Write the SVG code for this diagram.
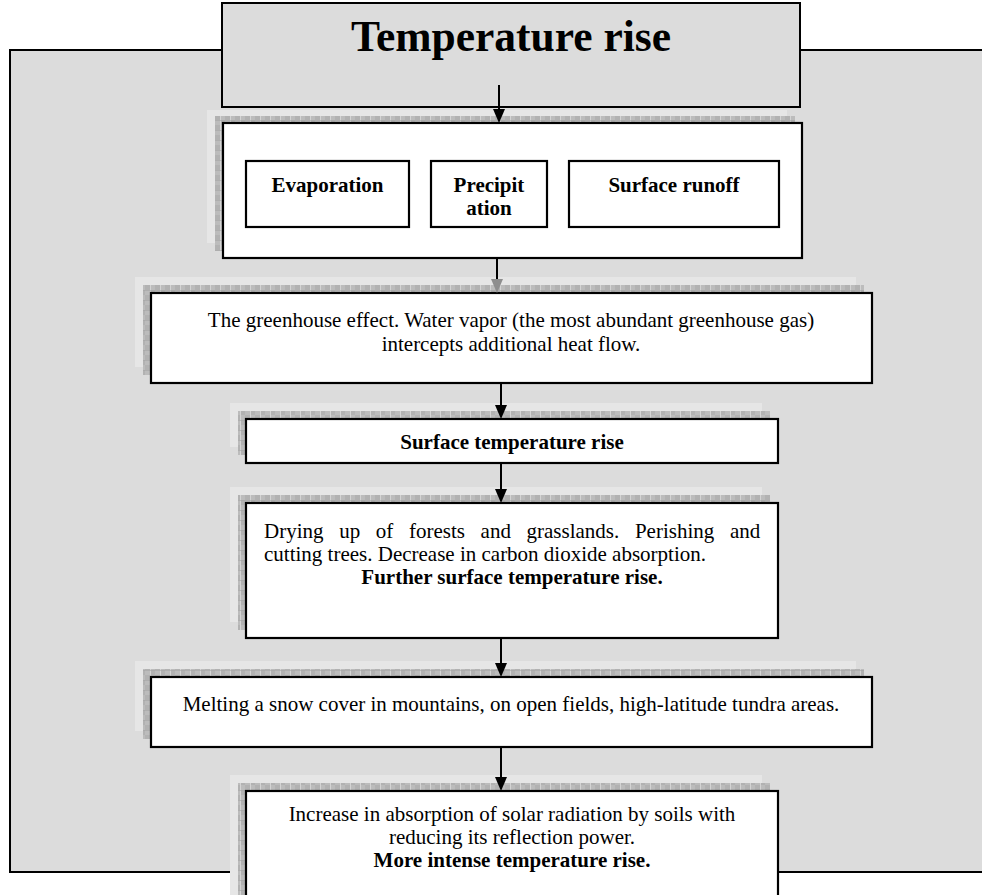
<svg xmlns="http://www.w3.org/2000/svg" width="982" height="895" viewBox="0 0 982 895">
<defs>
<style>
.frame{fill:#dcdcdc;stroke:#000;stroke-width:2}
.box{fill:#fff;stroke:#000;stroke-width:2.2}
.glow{fill:#e6e6e6}
.shadow{fill:url(#hatch)}
.t{font-family:"Liberation Serif","Times New Roman",serif;font-size:21px;fill:#000}
.c{text-anchor:middle}
.b{font-weight:bold}
.conn{stroke:#000;stroke-width:2;fill:none}
</style>
<pattern id="hatch" width="10" height="10" patternUnits="userSpaceOnUse">
<rect width="10" height="10" fill="#bcbcbc"/>
<rect x="0" y="0" width="5" height="5" fill="#b2b2b2"/>
<rect x="5" y="5" width="5" height="5" fill="#b2b2b2"/>
<path d="M0.5 0V10" stroke="#d4d4d4" stroke-width="1"/>
<path d="M0 0.5H10" stroke="#a4a4a4" stroke-width="0.6"/>
</pattern>
<marker id="arr" markerUnits="userSpaceOnUse" markerWidth="14" markerHeight="12" viewBox="0 0 14 12" refX="6" refY="6" orient="auto">
<path d="M0,0 L14,6 L0,12 z" fill="#000"/>
</marker>
<marker id="arrg" markerUnits="userSpaceOnUse" markerWidth="14" markerHeight="12" viewBox="0 0 14 12" refX="6" refY="6" orient="auto">
<path d="M0,0 L14,6 L0,12 z" fill="#8e8e8e"/>
</marker>
</defs>

<g id="frame">
<rect class="frame" x="10" y="50" width="990" height="822"/>
</g>

<g id="water-cycle">
<rect class="glow" x="207" y="110" width="580" height="133"/>
<rect class="shadow" x="215" y="116" width="580" height="135"/>
<rect class="box" x="223" y="123" width="579" height="135"/>
<g id="evaporation">
<rect class="box" x="246" y="161" width="163" height="66"/>
<text class="t c b" x="327.5" y="192">Evaporation</text>
</g>
<g id="precipitation">
<rect class="box" x="431" y="161" width="116" height="66"/>
<text class="t c b" x="489" y="192">Precipit</text>
<text class="t c b" x="489" y="215">ation</text>
</g>
<g id="surface-runoff">
<rect class="box" x="569" y="161" width="210" height="66"/>
<text class="t c b" x="674" y="192">Surface runoff</text>
</g>
</g>

<g id="title">
<rect class="frame" x="222" y="3" width="578" height="104"/>
<text class="t c b" x="511" y="51" style="font-size:43.5px">Temperature rise</text>
</g>

<g id="greenhouse">
<rect class="glow" x="135" y="277" width="721" height="90"/>
<rect class="shadow" x="143" y="285" width="721" height="90"/>
<rect class="box" x="151" y="293" width="721" height="90"/>
<text class="t c" x="511" y="327">The greenhouse effect. Water vapor (the most abundant greenhouse gas)</text>
<text class="t c" x="511" y="351">intercepts additional heat flow.</text>
</g>

<g id="surface-temp">
<rect class="glow" x="230" y="403" width="532" height="44"/>
<rect class="shadow" x="238" y="411" width="532" height="44"/>
<rect class="box" x="246" y="419" width="532" height="44"/>
<text class="t c b" x="512" y="449">Surface temperature rise</text>
</g>

<g id="drying">
<rect class="glow" x="230" y="487" width="532" height="135"/>
<rect class="shadow" x="238" y="495" width="532" height="135"/>
<rect class="box" x="246" y="503" width="532" height="135"/>
<text class="t" x="264" y="538" word-spacing="10.4">Drying up of forests and grasslands. Perishing and</text>
<text class="t" x="264" y="561">cutting trees. Decrease in carbon dioxide absorption.</text>
<text class="t c b" x="512" y="584">Further surface temperature rise.</text>
</g>

<g id="melting">
<rect class="glow" x="135" y="661" width="721" height="70"/>
<rect class="shadow" x="143" y="669" width="721" height="70"/>
<rect class="box" x="151" y="677" width="721" height="70"/>
<text class="t c" x="511" y="711">Melting a snow cover in mountains, on open fields, high-latitude tundra areas.</text>
</g>

<g id="absorption">
<rect class="glow" x="230" y="775" width="532" height="130"/>
<rect class="shadow" x="238" y="783" width="532" height="130"/>
<rect class="box" x="246" y="791" width="532" height="130"/>
<text class="t c" x="512" y="821">Increase in absorption of solar radiation by soils with</text>
<text class="t c" x="512" y="844">reducing its reflection power.</text>
<text class="t c b" x="512" y="867">More intense temperature rise.</text>
</g>

<g id="connectors">
<line class="conn" x1="499" y1="85" x2="499" y2="115" marker-end="url(#arr)"/>
<line class="conn" x1="497" y1="258" x2="497" y2="285" marker-end="url(#arrg)"/>
<line class="conn" x1="501" y1="383" x2="501" y2="411" marker-end="url(#arr)"/>
<line class="conn" x1="501" y1="463" x2="501" y2="495" marker-end="url(#arr)"/>
<line class="conn" x1="501" y1="638" x2="501" y2="669" marker-end="url(#arr)"/>
<line class="conn" x1="501" y1="747" x2="501" y2="783" marker-end="url(#arr)"/>
</g>
</svg>
